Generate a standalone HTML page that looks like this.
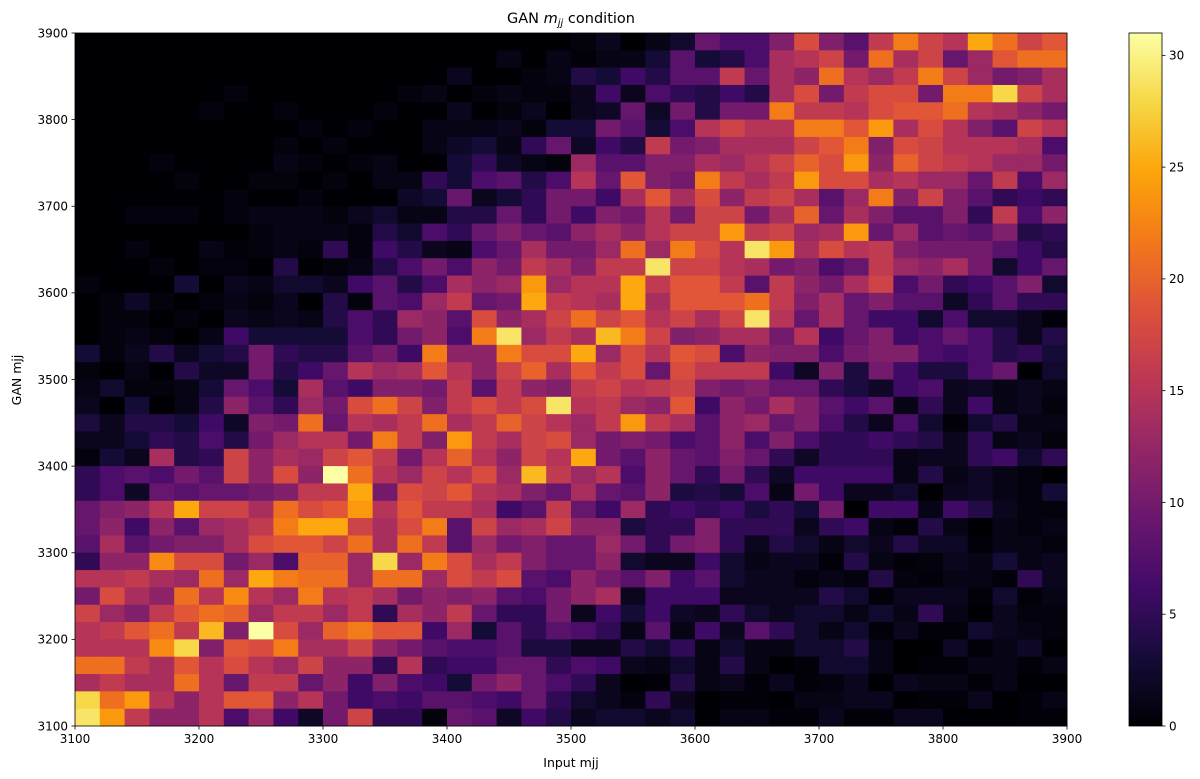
<!DOCTYPE html>
<html><head><meta charset="utf-8"><style>
html,body{margin:0;padding:0;background:#fff;}
svg{display:block;font-family:"DejaVu Sans","Liberation Sans",sans-serif;}
</style></head><body>
<svg id="chart" width="1200" height="779" viewBox="0 0 1200 779" xmlns="http://www.w3.org/2000/svg">
<text x="571" y="23" text-anchor="middle" font-size="14.5">GAN <tspan font-style="italic">m</tspan><tspan font-style="italic" font-size="10" dy="3">jj</tspan><tspan dy="-3"> condition</tspan></text>
<text x="571" y="767" text-anchor="middle" font-size="12.5">Input mjj</text>
<text x="21" y="380" text-anchor="middle" font-size="12.5" transform="rotate(-90 21 380)">GAN mjj</text>
<g id="cells"></g>
<g id="axes"></g>
<g id="cbar"></g>
</svg>
<script>
// bin edges
const xEdges0 = 3100, xEdges1 = 3900, nXBins = 40;
const yEdges0 = 3100, yEdges1 = 3900, nYBins = 40;
const xTicks = [3100,3200,3300,3400,3500,3600,3700,3800,3900];
const yTicks = [3100,3200,3300,3400,3500,3600,3700,3800,3900];
const cbarTicks = [0,5,10,15,20,25,30];
const vmax = 31;
// counts: rows from top (3880-3900) to bottom (3100-3120), columns from 3100 to 3900
const counts = [
[0,0,0,0,0,0,0,0,0,0,0,0,0,0,0,0,0,0,0,0, 0.5,1.5,0,1,2.5,9,7,7,11,18,11,8,16,22,17,15,25,21,17,19],
[0,0,0,0,0,0,0,0,0,0,0,0,0,0,0,0,0,1,0,1, 0.3,1,1,3,8,3,4,7,14,15,17,10,21,14,17,9,13,19,21,21],
[0,0,0,0,0,0,0,0,0,0,0,0,0,0,0,1.5,0,0,0.5,1, 4,3,6,4,8,8,16,9,14,12,21,15,13,16,22,17,13,10,11,14],
[0,0,0,0,0,0,0.5,0,0,0,0,0,0,0.5,1,0,0.5,1,0.5,0.5, 1.5,6,1.5,7,5,4,6,4,14,18,10,16,18,18,10,22,22,28,17,14],
[0,0,0,0,0,0.5,0,0,0.5,0,0,0,0.5,0,0,1.5,0,0.5,1.5,0, 1.5,2,9,2,10,4,10,10,22,16,16,15,18,19,19,21,15,14,12,10],
[0,0,0,0,0,0,0,0,0,0.5,0,0.5,0,0,1,1,1,1.5,0.5,3, 3,10,8,3,7,15,17,15,15,22,22,19,24,14,18,15,11,8,17,15],
[0,0,0,0,0,0,0,0,0.5,0,0.5,0,0,0,1,2,3,1,5,9, 2,6,4,16,10,11,14,14,14,17,19,22,11,18,17,15,15,15,14,7],
[0,0,0,0.5,0,0,0,0,1,0.5,0,0.5,1,0,0,3,5,2,1,0.5, 13,8,8,11,11,14,13,15,17,20,18,24,12,20,17,16,15,13,13,10],
[0,0,0,0,0.5,0,0,0.5,0.5,0,0.5,0,1,1,5,3,7,8,4,7, 15,9,19,11,10,22,16,14,16,24,18,18,14,15,13,13,9,16,7,13],
[0,0,0,0,0,0,0.5,0,0,0.5,0,0,0,2,3,9,1.5,3,5,10, 10,6,14,19,14,18,12,16,17,14,8,13,22,11,17,11,8,5,6,5],
[0,0,0.5,0.5,0.5,0,0.5,1,1,1,0.5,1.5,2.5,1,1,4,4,9,5,10, 6,11,10,15,10,17,17,10,14,20,9,14,11,8,8,11,5,16,7,12],
[0,0,0,0,0,0,0,0.5,1,1,1,0.5,4,2.5,7,5,9,11,9,8, 12,14,12,15,17,17,24,16,17,13,14,24,9,13,8,9,8,11,4,5],
[0,0,0.5,0,0,1,0.3,0.5,1,0.5,5,0.5,6,4,1.5,1,7,9,14,10, 10,13,21,13,22,18,15,29,24,14,18,15,16,11,10,10,10,8,6,4],
[0,0,0,0.5,0,0.5,0.5,0,4,0,0.5,1,4,7,10,7,12,10,16,14, 11,16,16,29,17,17,15,14,10,11,7,9,16,13,12,14,10,2.5,6,9],
[0.5,0,0,0,3,0,1.5,1,2.5,2.5,1.5,6,8,4,7,14,12,13,24,13, 15,15,25,16,19,19,16,8,16,12,10,14,17,7,10,5,6,8,11,2.5],
[0,0.5,2,0.5,0,0.5,1,0.5,1.5,0,4,0.5,8,7,13,16,9,10,25,16, 15,14,25,14,19,19,19,21,16,11,14,9,11,8,8,2,5,8,5,5],
[0,0.5,0.5,0,0.5,0,1.5,1,1.5,1,4,7,5,13,12,8,18,12,14,17, 21,17,19,15,17,14,17,29,15,9,14,9,6,6,2.5,7,2.5,2.5,1.5,0.3],
[0,0.5,1,0.5,0,1,6,3,3,3,3,7,5,10,12,7,22,29,13,16, 14,26,22,17,11,12,14,14,10,15,6,9,11,6,7,9,7,4,1.5,4],
[3,0.5,1.5,4,1.5,3,4,10,5,4,4,8,10,6,22,12,12,22,18,18, 25,13,18,15,19,18,7,12,11,11,7,10,11,11,7,6,7,4,5,3],
[0.5,0,1,0,4,2,2,10,4,6,9,15,13,14,19,15,12,17,20,14, 19,16,18,9,18,16,16,16,6,2,11,3.5,10,6,3.5,3.5,7,9,0,2.5],
[1,2.5,0.5,0.5,1,3,9,7,3,14,8,6,11,11,10,16,8,16,12,11, 16,17,15,16,17,11,10,11,9,9,5,3.5,2,6,7,1.5,2,1,1.5,1],
[1.5,0,3,0,1,4,12,8,5,13,10,18,21,17,11,16,18,16,18,29, 15,16,13,12,19,6,12,10,14,11,8,6,8,1,5,1.5,6,1,1.5,0.5],
[3.5,1.5,4,4,3,6,2,11,10,21,9,15,14,16,21,14,16,20,17,15, 13,16,24,16,14,8,12,13,9,11,7,4,1.5,7,2.5,0.3,2.5,4,1,1],
[1.5,1.5,3,5,4,7,4,10,13,15,15,10,22,16,11,24,16,14,17,18, 13,10,11,10,7,8,12,7,11,7,5,5,6,5,4,1.5,5,1,1.5,0.5],
[0.5,3,1.5,14,4,5,17,12,14,13,17,19,16,10,15,20,15,12,17,15, 25,10,8,12,9,8,11,9,5,2,5,5,5,1,1.5,1.5,5,6,2.5,5],
[5,7,8,7,10,8,17,12,18,12,31,21,15,13,17,15,18,13,26,16, 13,15,7,12,9,5,10,5,2,6,6,6,6,1,4,1,2,1,0.5,0],
[5,7,2,9,8,9,9,10,11,16,16,25,10,18,17,19,15,14,11,9, 14,9,8,12,3.5,4,3,7,1,10,6,1.5,1.5,2.5,0,1.5,2,1,0.5,3],
[9,11,12,15,25,17,17,14,21,18,19,24,15,19,16,16,14,6,8,16, 9,6,13,5,6,5,6,3.5,5,3,10,0,6,6,1,6,4,1.5,0.5,0.5],
[9,12,6,12,8,13,14,16,22,25,25,17,14,18,22,8,17,13,14,17, 12,12,3.5,5,5,11,5,5,5,1.5,5,6,1,0.3,4,1,0,1,0.5,1],
[8,14,8,10,11,11,14,18,19,19,17,21,14,21,16,8,13,10,11,9, 9,13,10,5,10,11,5,1.5,4,2.5,1,2.5,1.5,4,2,2,0.3,1,1,0.5],
[5,12,12,23,18,18,10,13,7,20,20,13,28,13,22,18,14,16,11,9, 9,12,2.5,1.5,1.5,6,2.5,1,1.5,1.5,0.3,4,1,0.3,0.5,1.5,1,3,1,1.5],
[15,15,16,14,13,21,13,25,22,21,21,13,21,21,13,18,16,18,8,7, 12,10,8,11,6,8,2.5,1.5,1.5,0.7,1,0.7,4,0.7,0.3,1,1,0.3,5,1.5],
[10,18,14,12,21,15,23,15,13,22,15,16,14,10,12,11,12,8,7,10, 12,14,1.5,6,6,6,1.5,1.5,1.5,1.5,4,2.5,0.3,1.5,1.5,1.5,0.3,2.5,0.3,1],
[17,13,11,16,19,21,20,13,16,16,13,16,5,14,12,16,9,5,5,10, 1.5,6,3,6,2,1.5,5,2.5,1.5,2.5,2.5,1,2.5,1,5,1,0,1.5,0.5,0.5],
[15,16,19,21,16,26,11,31,18,13,20,22,19,19,6,13,3,8,5,8, 7,5,1,8,1,6,1.5,8,5,2.5,1,2.5,0.3,1.5,0.3,0.3,2.5,1.5,1,0.5],
[15,15,15,23,28,11,19,18,22,14,14,17,12,10,8,7,7,8,3.5,3.5, 1.5,1.5,4,2.5,5,1,2.5,1,1,2.5,2.5,4,1,0,0,2,0.3,1,2,0],
[21,21,16,14,19,15,18,15,13,17,12,12,5,15,5,6,6,9,9,5, 7,6,1.5,1,2.5,1,4,1,0,0.3,2.5,2.5,1,0,0.3,0.3,1,1,0.3,1],
[14,16,14,14,21,15,9,16,16,9,12,6,11,7,6,3,10,12,9,7, 5,1.5,0,0.3,4,1,1.5,0.3,1.5,0.3,0.7,1.5,0,1.5,1,1,0.3,1,0,0],
[28,21,24,15,12,15,19,19,12,15,10,6,7,6,8,8,7,6,9,5, 2.5,1.5,0.7,5,1.5,0,0.3,0.3,0,1,1,1.5,1.5,0,0.3,0.3,1.5,0,0.3,1],
[29,24,16,12,12,15,7,13,6,2,10,17,5,5,0.5,9,8,2,6,4, 1.5,2.5,2.5,1.5,2.5,0,1,1,0.3,0.3,1.5,0.3,0.3,1.5,1.5,0,0,0,0.3,0.3]
];

const PL=75, PR=1067, PT=33, PB=726;
const NS="http://www.w3.org/2000/svg";
function xScale(v){return PL+(v-xEdges0)/(xEdges1-xEdges0)*(PR-PL);}
function yScale(v){return PB-(v-yEdges0)/(yEdges1-yEdges0)*(PB-PT);}
const stops=[[0,0,4],[22,11,57],[66,10,104],[106,23,110],[147,38,103],[188,55,84],[221,81,58],[243,120,25],[252,165,10],[246,215,70],[252,255,164]];
function inferno(v){
  let t=Math.max(0,Math.min(1,v/vmax))*10;
  let i=Math.min(9,Math.floor(t)), f=t-i;
  const a=stops[i], b=stops[i+1];
  return "rgb("+[0,1,2].map(k=>Math.round(a[k]+(b[k]-a[k])*f)).join(",")+")";
}
function mk(tag,attrs,parent){const e=document.createElementNS(NS,tag);for(const k in attrs)e.setAttribute(k,attrs[k]);parent.appendChild(e);return e;}

const cells=document.getElementById('cells');
const bw=(xEdges1-xEdges0)/nXBins, bh=(yEdges1-yEdges0)/nYBins;
counts.forEach((row,r)=>{
  const yTop=yEdges1-r*bh;
  row.forEach((v,c)=>{
    const x0=xScale(xEdges0+c*bw), x1=xScale(xEdges0+(c+1)*bw);
    const y0=yScale(yTop), y1=yScale(yTop-bh);
    const el=mk('rect',{x:x0,y:y0,width:x1-x0+0.5,height:y1-y0+0.5,fill:inferno(v)},cells);
    
    
  });
});

const axes=document.getElementById('axes');
const frame=mk('rect',{x:PL,y:PT,width:PR-PL,height:PB-PT,fill:'none',stroke:'#000','stroke-width':0.8},axes);


xTicks.forEach(t=>{
  const x=xScale(t);
  const l=mk('line',{x1:x,x2:x,y1:PB,y2:PB+3.5,stroke:'#000','stroke-width':0.8},axes);
  
  
  const tx=mk('text',{x:x,y:PB+17,'text-anchor':'middle','font-size':12},axes);
  tx.textContent=t;
  
  
});
yTicks.forEach(t=>{
  const y=yScale(t);
  const l=mk('line',{x1:PL-3.5,x2:PL,y1:y,y2:y,stroke:'#000','stroke-width':0.8},axes);
  
  
  const tx=mk('text',{x:PL-7,y:y+4.3,'text-anchor':'end','font-size':12},axes);
  tx.textContent=t;
  
  
});

const cb=document.getElementById('cbar');
const CL=1129, CR=1162;
const defs=mk('defs',{},cb);
const grad=mk('linearGradient',{id:'cg',x1:0,y1:1,x2:0,y2:0},defs);
for(let i=0;i<=20;i++){mk('stop',{offset:i/20,'stop-color':inferno(i/20*vmax)},grad);}
const cbRect=mk('rect',{x:CL,y:PT,width:CR-CL,height:PB-PT,fill:'url(#cg)',stroke:'#000','stroke-width':0.8},cb);


cbarTicks.forEach(t=>{
  const y=PB-t/vmax*(PB-PT);
  const l=mk('line',{x1:CR,x2:CR+3.5,y1:y,y2:y,stroke:'#000','stroke-width':0.8},cb);
  
  
  const tx=mk('text',{x:CR+7,y:y+4.3,'font-size':12},cb);
  tx.textContent=t;
  
  
});
</script>
</body></html>
